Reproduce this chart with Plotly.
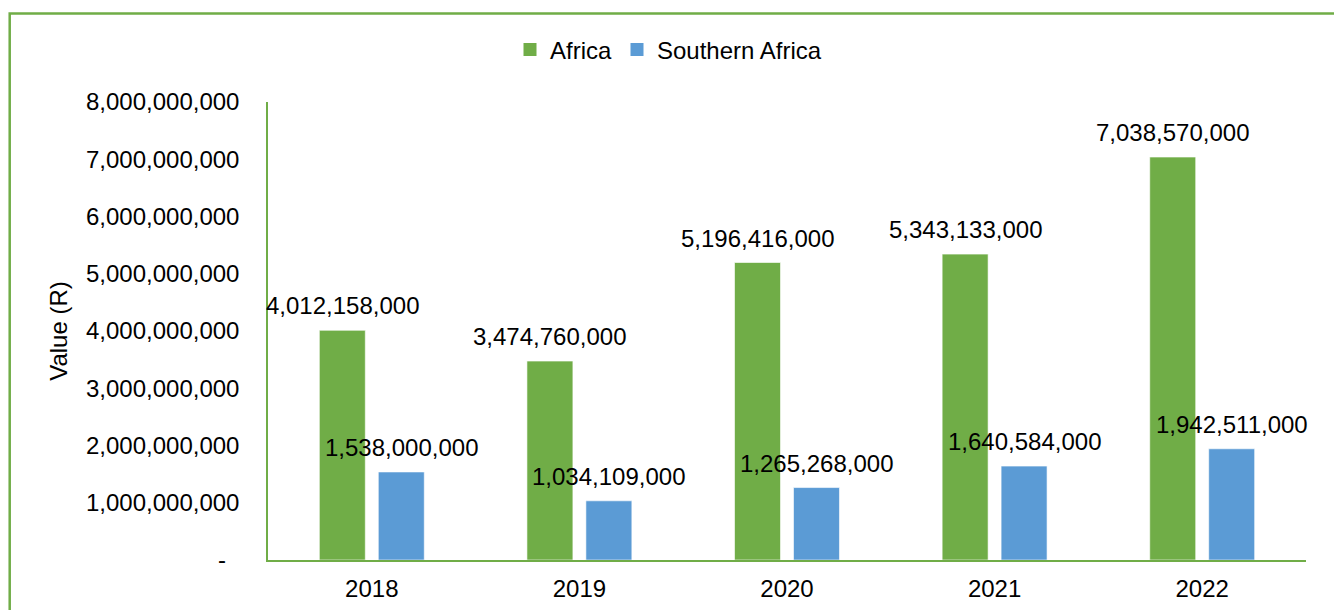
import plotly.graph_objects as go

years = ["2018", "2019", "2020", "2021", "2022"]
africa = [4012158000, 3474760000, 5196416000, 5343133000, 7038570000]
southern_africa = [1538000000, 1034109000, 1265268000, 1640584000, 1942511000]
y_ticks = [0, 1e9, 2e9, 3e9, 4e9, 5e9, 6e9, 7e9, 8e9]

GREEN = "#70AD47"
BLUE = "#5B9BD5"
FONT = "Liberation Sans, Arial, sans-serif"
FS = 24

W, H = 1334, 610
ML, MR, MT, MB = 268, 28, 102, 50
plot_w = W - ML - MR
plot_h = H - MT - MB

BARGAP = 0.432
GROUPGAP = 0.22
slot = plot_w / len(years)
bar_slot = slot * (1 - BARGAP) / 2
offset_px = bar_slot / 2

fig = go.Figure()
for name, vals, color in (("Africa", africa, GREEN), ("Southern Africa", southern_africa, BLUE)):
    fig.add_trace(go.Bar(x=years, y=vals, name=name, marker_color=color, showlegend=False,
                         marker_line=dict(color="rgba(255,255,255,0.6)", width=1)))
# legend keys as square swatches
for name, color in (("Africa", GREEN), ("Southern Africa", BLUE)):
    fig.add_trace(go.Scatter(x=[None], y=[None], mode="markers", name=name,
                             marker=dict(symbol="square", size=13, color=color)))

# value labels above each bar (x given as category index)
annotations = []
for series, shift in ((africa, -offset_px), (southern_africa, offset_px)):
    for i, v in enumerate(series):
        annotations.append(dict(
            x=i, y=v, xref="x", yref="y", text=f"{v:,.0f}", showarrow=False,
            xshift=shift, yshift=9, yanchor="bottom", xanchor="center",
            font=dict(family=FONT, size=FS, color="#000000"),
        ))

tick_text = ["-\u00a0\u00a0"] + [f"{int(t):,}" for t in y_ticks[1:]]

fig.update_layout(
    width=W, height=H,
    margin=dict(l=ML, r=MR, t=MT, b=MB, pad=0, autoexpand=False),
    paper_bgcolor="white", plot_bgcolor="white",
    barmode="group", bargap=BARGAP, bargroupgap=GROUPGAP,
    font=dict(family=FONT, size=FS, color="#000000"),
    showlegend=True,
    legend=dict(orientation="h", xref="paper", yref="paper",
                x=(510 - ML) / plot_w, xanchor="left",
                y=(MT + plot_h - 50) / plot_h, yanchor="middle",
                font=dict(family=FONT, size=FS), itemwidth=30,
                bgcolor="rgba(0,0,0,0)"),
    xaxis=dict(type="category", range=[-0.5, len(years) - 0.5], autorange=False,
               automargin=False,
               showline=True, linecolor=GREEN, linewidth=1.5,
               ticks="", showgrid=False, ticklabelstandoff=6,
               tickfont=dict(family=FONT, size=FS)),
    yaxis=dict(range=[0, 8e9], autorange=False, automargin=False,
               tickvals=y_ticks, ticktext=tick_text,
               showline=True, linecolor=GREEN, linewidth=1.5, ticks="",
               showgrid=False, zeroline=False, ticklabelstandoff=22,
               tickfont=dict(family=FONT, size=FS),
               title=dict(text="Value (R)", font=dict(family=FONT, size=FS), standoff=12)),
    annotations=annotations,
    shapes=[dict(type="rect", xref="paper", yref="paper",
                 x0=(9.7 - ML) / plot_w, x1=(W + 20 - ML) / plot_w,
                 y0=-(H + 20 - MT - plot_h) / plot_h, y1=(MT + plot_h - 13.5) / plot_h,
                 line=dict(color=GREEN, width=2.5), fillcolor="rgba(0,0,0,0)", layer="below")],
)

fig.write_html("out.html")
